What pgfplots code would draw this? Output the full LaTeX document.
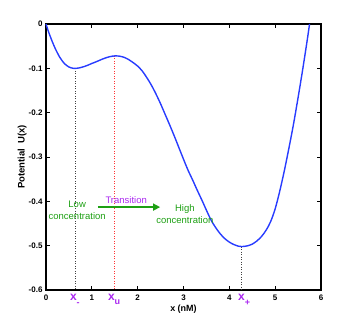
\documentclass[border=0pt]{standalone}
\usepackage{pgfplots}
\pgfplotsset{compat=1.18}
\usetikzlibrary{arrows.meta}
\usepackage{fontspec}
\setmainfont{Liberation Sans}
\definecolor{curveblue}{RGB}{40,60,255}
\definecolor{mygreen}{RGB}{30,160,20}
\definecolor{mypurple}{RGB}{170,40,240}
\begin{document}
\begin{tikzpicture}
\path[use as bounding box] (-46pt,-37pt) rectangle (308pt,290pt);
\begin{axis}[
  scale only axis, width=275pt, height=266pt,
  xmin=0, xmax=6, ymin=-0.6, ymax=0,
  xtick={0,1,2,3,4,5,6},
  ytick={-0.6,-0.5,-0.4,-0.3,-0.2,-0.1,0},
  yticklabels={-0.6,-0.5,-0.4,-0.3,-0.2,-0.1,0},
  xtick pos=both, ytick pos=both,
  xticklabel pos=bottom, yticklabel pos=left,
  tick align=inside,
  major tick length=4pt,
  tick style={black, line width=0.8pt},
  axis line style={line width=1.2pt},
  /pgf/number format/assume math mode=true,
  ticklabel style={font=\bfseries\fontsize{8}{9}\selectfont},
  xticklabel style={yshift=-1pt},
  xlabel={x (nM)},
  ylabel={Potential\ \ U(x)},
  xlabel style={font=\bfseries\fontsize{9}{10}\selectfont, at={(axis description cs:0.5,-0.071)}, anchor=center},
  ylabel style={font=\bfseries\fontsize{9.5}{10}\selectfont, at={(axis description cs:-0.087,0.5)}, anchor=center},
  clip=false,
]
\addplot[dotted, black!75, line width=0.5pt] coordinates {(0.63,-0.1) (0.63,-0.6)};
\addplot[dotted, red!80, line width=0.5pt] coordinates {(1.5,-0.072) (1.5,-0.6)};
\addplot[dotted, black!75, line width=0.5pt] coordinates {(4.27,-0.502) (4.27,-0.6)};
\addplot[curveblue, line width=1.4pt, smooth] coordinates {
(0,0) (0.05,-0.016) (0.1,-0.030) (0.15,-0.043) (0.2,-0.055) (0.3,-0.075) (0.4,-0.089)
(0.5,-0.097) (0.6,-0.1) (0.7,-0.0995) (0.8,-0.097) (0.9,-0.0935) (1.0,-0.089)
(1.1,-0.085) (1.2,-0.0805) (1.3,-0.0765) (1.4,-0.0735) (1.5,-0.072) (1.6,-0.0725)
(1.7,-0.075) (1.8,-0.080) (1.9,-0.087) (2.0,-0.095) (2.1,-0.106) (2.2,-0.121)
(2.3,-0.138) (2.4,-0.158) (2.5,-0.180) (2.6,-0.204) (2.7,-0.228) (2.8,-0.253)
(2.9,-0.279) (3.0,-0.305) (3.1,-0.330) (3.2,-0.352) (3.3,-0.375) (3.4,-0.397)
(3.5,-0.420) (3.6,-0.442) (3.7,-0.459) (3.8,-0.473) (3.9,-0.484) (4.0,-0.492)
(4.1,-0.4975) (4.2,-0.5012) (4.27,-0.502) (4.35,-0.5012) (4.4,-0.5003) (4.5,-0.4965)
(4.6,-0.4895) (4.7,-0.4795) (4.8,-0.4655) (4.9,-0.446) (5.0,-0.417) (5.1,-0.377)
(5.2,-0.331) (5.3,-0.280) (5.4,-0.226) (5.5,-0.166) (5.6,-0.103) (5.7,-0.036) (5.75,0)
};
\draw[mygreen, line width=1.5pt, -{Triangle[length=7pt,width=7pt]}] (axis cs:1.13,-0.413) -- (axis cs:2.49,-0.413);
\node[text=mygreen, align=center, font=\fontsize{9.5}{12.5}\selectfont] at (axis cs:0.68,-0.42) {Low\\concentration};
\node[text=mypurple, font=\fontsize{9.5}{11}\selectfont] at (axis cs:1.75,-0.397) {Transition};
\node[text=mygreen, align=center, font=\fontsize{9.5}{12.5}\selectfont] at (axis cs:3.03,-0.429) {High\\concentration};
\node[text=mypurple, font=\bfseries\fontsize{12}{13}\selectfont, anchor=north west, inner sep=0pt] at ([yshift=-4pt]axis cs:0.52,-0.6) {x\raisebox{-5pt}{\fontsize{9}{10}\selectfont -}};
\node[text=mypurple, font=\bfseries\fontsize{12}{13}\selectfont, anchor=north west, inner sep=0pt] at ([yshift=-4pt]axis cs:1.35,-0.6) {x\raisebox{-4pt}{\fontsize{9}{10}\selectfont u}};
\node[text=mypurple, font=\bfseries\fontsize{12}{13}\selectfont, anchor=north west, inner sep=0pt] at ([yshift=-4pt]axis cs:4.19,-0.6) {x\raisebox{-5pt}{\fontsize{9}{10}\selectfont +}};
\end{axis}
\end{tikzpicture}
\end{document}
